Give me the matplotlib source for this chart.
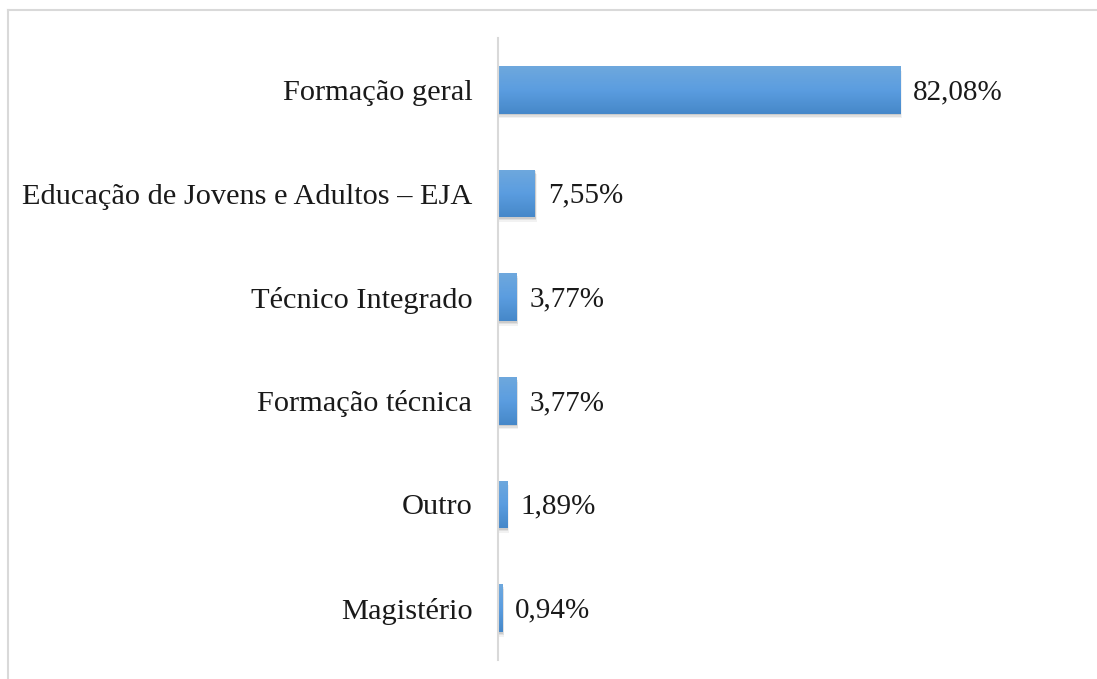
import matplotlib
matplotlib.use("Agg")
import matplotlib.pyplot as plt
import numpy as np
from matplotlib.lines import Line2D
from matplotlib.colors import LinearSegmentedColormap

categories = ["Formação geral", "Educação de Jovens e Adultos – EJA", "Técnico Integrado",
              "Formação técnica", "Outro", "Magistério"]
values = [82.08, 7.55, 3.77, 3.77, 1.89, 0.94]
labels = ["82,08%", "7,55%", "3,77%", "3,77%", "1,89%", "0,94%"]

plt.rcParams['font.family'] = ['Liberation Serif', 'DejaVu Serif']

W, H = 1097, 679
fig = plt.figure(figsize=(W / 100, H / 100), dpi=100)

# outer border
fig.add_artist(Line2D([7.5 / W, 7.5 / W], [0, 1 - 10 / H], transform=fig.transFigure,
                      color="#d9d9d9", lw=1.5))
fig.add_artist(Line2D([7.5 / W, 1.0], [1 - 10 / H, 1 - 10 / H], transform=fig.transFigure,
                      color="#d9d9d9", lw=1.5))

ax_left, ax_right = 498, 939
ax_top, ax_bot = 38, 660
ax = fig.add_axes([ax_left / W, 1 - ax_bot / H, (ax_right - ax_left) / W, (ax_bot - ax_top) / H])

n = len(categories)
y = np.arange(n)[::-1]
height = 0.46
xmax = 90

grad = np.linspace(0, 1, 64).reshape(-1, 1)
cmap = LinearSegmentedColormap.from_list("g", ["#4688c9", "#5b9de0", "#6ea8dd"])

for yi, v, lab in zip(y, values, labels):
    # soft shadow
    for k, a in [(0.6, 0.05), (0.4, 0.07), (0.2, 0.09)]:
        ax.barh(yi - 0.045 * k / 0.6, v + k * 0.6, height=height, left=0.0, color="#000000",
                alpha=a, zorder=1, edgecolor="none")
    b = ax.barh(yi, v, height=height, color="#5b9bd5", zorder=2, edgecolor="none")[0]
    im = ax.imshow(grad, extent=(0, v, yi - height / 2, yi + height / 2), aspect="auto",
                   cmap=cmap, origin="lower", zorder=3)
    im.set_clip_path(b)
    ax.text(v + 2.6, yi - 0.02, lab, va="center", ha="left", fontsize=21, color="#1a1a1a")

ax.set_xlim(0, xmax)
ax.set_ylim(-0.5, n - 0.5)
ax.set_yticks(y)
ax.set_yticklabels(categories, fontsize=21.9, color="#1a1a1a")
ax.tick_params(axis="y", length=0, pad=18.5)
ax.set_xticks([])
for s in ["top", "right", "bottom"]:
    ax.spines[s].set_visible(False)
ax.spines["left"].set_color("#d9d9d9")
ax.spines["left"].set_linewidth(1.5)
ax.spines["left"].set_zorder(5)

fig.savefig("out.png", dpi=100)
